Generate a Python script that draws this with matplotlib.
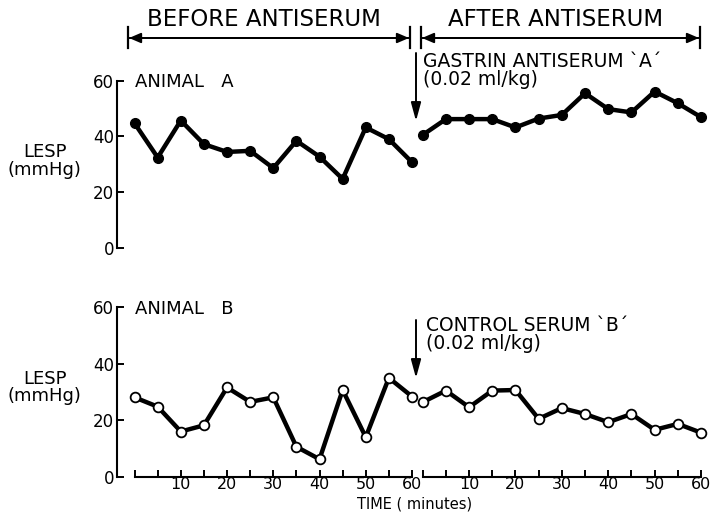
import matplotlib.pyplot as plt
from matplotlib.lines import Line2D
from matplotlib.patches import FancyArrowPatch

plt.rcParams['font.family'] = ['DejaVu Sans']

# time points (minutes) in each period
minutes = [0, 5, 10, 15, 20, 25, 30, 35, 40, 45, 50, 55, 60]

# LESP (mmHg), animal A, gastrin antiserum
a_before = [44.7, 32.4, 45.7, 37.2, 34.4, 34.8, 28.6, 38.4, 32.7, 24.7, 43.2, 39.0, 30.7]
a_after = [40.5, 46.2, 46.2, 46.2, 43.2, 46.4, 47.7, 55.5, 49.8, 48.6, 56.1, 51.9, 46.9]

# LESP (mmHg), animal B, control serum
b_before = [28.1, 24.8, 16.0, 18.2, 31.6, 26.5, 28.1, 10.6, 6.2, 30.7, 14.0, 35.0, 28.4]
b_after = [26.4, 30.5, 24.6, 30.5, 30.7, 20.5, 24.3, 22.2, 19.3, 22.2, 16.6, 18.7, 15.6]

y_ticks = [0, 20, 40, 60]
x_ticks = [0, 5, 10, 15, 20, 25, 30, 35, 40, 45, 50, 55, 60]
x_labels = ['', '', '10', '', '20', '', '30', '', '40', '', '50', '', '60']

W, H = 714, 512
fig = plt.figure(figsize=(W / 100, H / 100), dpi=100)


def fx(px):
    return px / W


def fy(py):
    return 1 - py / H


def make_pair(y_top, y_bot, show_x):
    # left (before) axes holds the y axis, right (after) axes has none
    ax1 = fig.add_axes([fx(117), fy(y_bot), fx(412 - 117), fy(y_top) - fy(y_bot)])
    ax2 = fig.add_axes([fx(422.7), fy(y_bot), fx(701 - 422.7), fy(y_top) - fy(y_bot)])
    ax1.set_xlim(-3.8, 60)
    ax2.set_xlim(0, 60)
    for ax in (ax1, ax2):
        ax.set_ylim(0, 60)
        ax.patch.set_visible(False)
        for s in ('top', 'right'):
            ax.spines[s].set_visible(False)
        ax.spines['bottom'].set_linewidth(1.5)
        ax.spines['left'].set_linewidth(1.5)
        if show_x:
            ax.spines['bottom'].set_bounds(0, 60)
            ax.set_xticks(x_ticks)
            ax.set_xticklabels(x_labels)
            ax.tick_params(axis='x', direction='in', length=5, width=1.4,
                           labelsize=11.5, pad=0.5)
        else:
            ax.spines['bottom'].set_visible(False)
            ax.set_xticks([])
    ax1.set_yticks(y_ticks)
    ax1.tick_params(axis='y', direction='in', length=5, width=1.4, labelsize=12, pad=2)
    ax2.spines['left'].set_visible(False)
    ax2.set_yticks([])
    return ax1, ax2


axA1, axA2 = make_pair(80.7, 247.7, False)
axB1, axB2 = make_pair(307.3, 476.7, True)

line_kw = dict(color='black', lw=3.2, clip_on=False, zorder=3)
axA1.plot(minutes, a_before, marker='o', ms=7, mfc='black', mec='black', **line_kw)
axA2.plot(minutes, a_after, marker='o', ms=7, mfc='black', mec='black', **line_kw)
axB1.plot(minutes, b_before, marker='o', ms=7, mfc='white', mec='black', mew=1.3, **line_kw)
axB2.plot(minutes, b_after, marker='o', ms=7, mfc='white', mec='black', mew=1.3, **line_kw)

txt = dict(fontsize=13, color='black')
axA1.text(0, 59.5, 'ANIMAL   A', va='center', ha='left', **txt)
axB1.text(0, 59.5, 'ANIMAL   B', va='center', ha='left', **txt)

for ax, ly in ((axA1, 0.52), (axB1, 0.525)):
    ax.set_ylabel('LESP\n(mmHg)', rotation=0, fontsize=13, linespacing=0.95,
                  ha='center', va='center')
    ax.yaxis.set_label_coords(-0.245, ly)


def arrow(p0, p1, hl, hw):
    fig.patches.append(FancyArrowPatch(
        p0, p1, transform=fig.transFigure,
        arrowstyle='-|>,head_length=%g,head_width=%g' % (hl, hw),
        color='black', lw=1.4, shrinkA=0, shrinkB=0))


# header brackets
def bracket(x0, x1, y, label, tx):
    for xx in (x0, x1):
        fig.add_artist(Line2D([fx(xx), fx(xx)], [fy(27), fy(48)], color='black', lw=1.6))
    arrow((fx(x0 + 1), fy(y)), (fx(x1 - 1), fy(y)), 7, 3)
    arrow((fx(x1 - 1), fy(y)), (fx(x0 + 1), fy(y)), 7, 3)
    fig.text(fx(tx), fy(19), label, ha='center', va='center', fontsize=16.5)


bracket(128, 410, 38, 'BEFORE ANTISERUM', 264)
bracket(421, 700, 38, 'AFTER ANTISERUM', 556)

# injection arrows
for y0, y1 in ((53, 121), (320, 378)):
    arrow((fx(416), fy(y0)), (fx(416), fy(y1)), 11, 3)

fig.text(fx(423), fy(70.5), "GASTRIN ANTISERUM `A\u00b4\n(0.02 ml/kg)",
         ha='left', va='center', fontsize=13.5, linespacing=0.88)
fig.text(fx(426), fy(334.5), "CONTROL SERUM `B\u00b4\n(0.02 ml/kg)",
         ha='left', va='center', fontsize=13.5, linespacing=0.88)

fig.text(fx(415), fy(511.5), 'TIME ( minutes)', ha='center', va='bottom', fontsize=10.5)

fig.savefig('out.png', dpi=100)
